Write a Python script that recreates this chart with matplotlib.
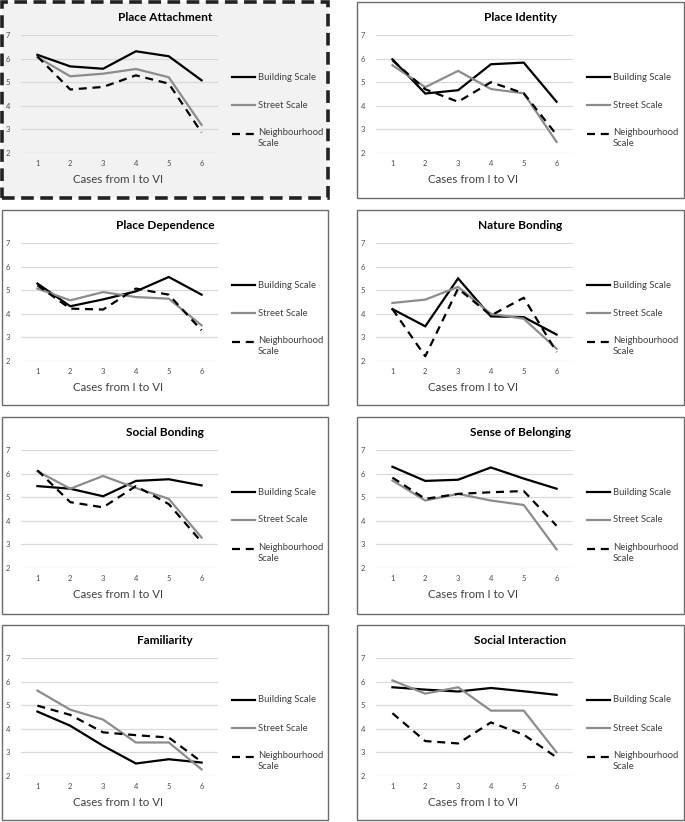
import matplotlib
matplotlib.use('Agg')
import matplotlib.pyplot as plt
from matplotlib.patches import Rectangle
from matplotlib.lines import Line2D

plt.rcParams['font.family'] = ['Lato', 'DejaVu Sans']

# ---------------- data ----------------
cases = [1, 2, 3, 4, 5, 6]
yticks = [2, 3, 4, 5, 6, 7]
series_names = ['Building Scale', 'Street Scale', 'Neighbourhood Scale']
titles = ['Place Attachment', 'Place Identity', 'Place Dependence', 'Nature Bonding',
          'Social Bonding', 'Sense of Belonging', 'Familiarity', 'Social Interaction']
xlabel = 'Cases from I to VI'

attachment_building = [6.16, 5.67, 5.57, 6.31, 6.10, 5.08]
attachment_street = [6.06, 5.25, 5.36, 5.56, 5.21, 3.19]
attachment_neigh = [6.09, 4.69, 4.80, 5.29, 4.94, 2.87]

identity_building = [5.97, 4.52, 4.66, 5.76, 5.83, 4.17]
identity_street = [5.72, 4.79, 5.48, 4.71, 4.53, 2.47]
identity_neigh = [5.93, 4.70, 4.17, 5.00, 4.53, 2.77]

dependence_building = [5.28, 4.32, 4.61, 4.95, 5.56, 4.81]
dependence_street = [5.07, 4.57, 4.92, 4.71, 4.64, 3.51]
dependence_neigh = [5.21, 4.22, 4.18, 5.07, 4.81, 3.30]

nature_building = [4.20, 3.47, 5.50, 3.89, 3.86, 3.12]
nature_street = [4.46, 4.60, 5.14, 4.00, 3.79, 2.52]
nature_neigh = [4.20, 2.20, 5.07, 3.93, 4.68, 2.38]

social_building = [5.47, 5.36, 5.04, 5.69, 5.76, 5.50]
social_street = [6.10, 5.36, 5.90, 5.39, 4.93, 3.29]
social_neigh = [6.14, 4.79, 4.57, 5.47, 4.71, 3.10]

belonging_building = [6.29, 5.69, 5.74, 6.26, 5.79, 5.36]
belonging_street = [5.71, 4.86, 5.14, 4.86, 4.67, 2.79]
belonging_neigh = [5.83, 4.93, 5.14, 5.21, 5.26, 3.79]

familiarity_building = [4.73, 4.13, 3.28, 2.53, 2.71, 2.57]
familiarity_street = [5.62, 4.81, 4.39, 3.42, 3.42, 2.28]
familiarity_neigh = [4.98, 4.59, 3.85, 3.73, 3.63, 2.60]

interaction_building = [5.76, 5.66, 5.58, 5.73, 5.59, 5.44]
interaction_street = [6.05, 5.49, 5.76, 4.77, 4.77, 3.00]
interaction_neigh = [4.66, 3.48, 3.38, 4.27, 3.75, 2.79]

panels = [
    (attachment_building, attachment_street, attachment_neigh),
    (identity_building, identity_street, identity_neigh),
    (dependence_building, dependence_street, dependence_neigh),
    (nature_building, nature_street, nature_neigh),
    (social_building, social_street, social_neigh),
    (belonging_building, belonging_street, belonging_neigh),
    (familiarity_building, familiarity_street, familiarity_neigh),
    (interaction_building, interaction_street, interaction_neigh),
]

# ---------------- layout ----------------
W, H = 685, 822
fig = plt.figure(figsize=(W / 100, H / 100), dpi=100)
fig.patch.set_facecolor('white')

col_x = [(2, 328), (357, 684)]
row_y = [(2, 198), (210, 405), (417, 614), (625, 820)]


def fx(px):
    return px / W


def fy(py):
    return 1 - py / H


styles = [
    dict(color='black', lw=1.6, ls='-'),
    dict(color='#8c8c8c', lw=1.6, ls='-'),
    dict(color='black', lw=1.6, ls=(0, (3.6, 2.6))),
]

for i, (title, data) in enumerate(zip(titles, panels)):
    r, c = divmod(i, 2)
    x0, x1 = col_x[c]
    y0, y1 = row_y[r]
    # panel box
    if i == 0:
        rect = Rectangle((fx(x0), fy(y1)), fx(x1 - x0), (y1 - y0) / H,
                         transform=fig.transFigure, facecolor='#f2f2f2',
                         edgecolor='#222222', lw=2.6, ls=(0, (3.5, 1.8)), zorder=-10)
    else:
        rect = Rectangle((fx(x0), fy(y1)), fx(x1 - x0), (y1 - y0) / H,
                         transform=fig.transFigure, facecolor='white',
                         edgecolor='#6b6b6b', lw=1.0, zorder=-10)
    fig.add_artist(rect)

    # plot area
    ax_l, ax_r = x0 + 19, x0 + 216
    ax_t, ax_b = y0 + 33, y0 + 151
    ax = fig.add_axes([fx(ax_l), fy(ax_b), fx(ax_r - ax_l), (ax_b - ax_t) / H])
    ax.set_zorder(5)
    ax.patch.set_alpha(0)
    for spine in ax.spines.values():
        spine.set_visible(False)
    ax.set_xlim(0.5, 6.5)
    ax.set_ylim(2, 7)
    ax.set_yticks(yticks)
    ax.set_xticks(cases)
    ax.yaxis.grid(True, color='#d9d9d9', lw=0.9)
    ax.set_axisbelow(True)
    ax.tick_params(axis='both', length=0, labelsize=5.5, labelcolor='#4d4d4d')
    ax.tick_params(axis='x', pad=5)
    ax.tick_params(axis='y', pad=8)
    for vals, st in zip(data, styles):
        ax.plot(cases, vals, clip_on=False, solid_joinstyle='miter', **st)

    # title
    fig.text(fx((x0 + x1) / 2), fy(y0 + 15.5), title, ha='center', va='center',
             fontsize=8.6, fontweight='bold', color='black')
    # x label
    fig.text(fx(x0 + 116), fy(y0 + 177.5), xlabel, ha='center', va='center',
             fontsize=8.3, color='#404040')

    # legend
    ly = [75, 103, 132]
    for k, (name, st) in enumerate(zip(series_names, styles)):
        yy = fy(y0 + ly[k])
        fig.add_artist(Line2D([fx(x0 + 230), fx(x0 + 253)], [yy, yy],
                              transform=fig.transFigure, **st))
        label = 'Neighbourhood\nScale' if k == 2 else name
        fig.text(fx(x0 + 256), fy(y0 + ly[k] - 6) if k == 2 else yy, label,
                 ha='left', va='top' if k == 2 else 'center', fontsize=6.8,
                 color='#404040', linespacing=1.25)

fig.savefig('out.png', dpi=100, facecolor='white')
